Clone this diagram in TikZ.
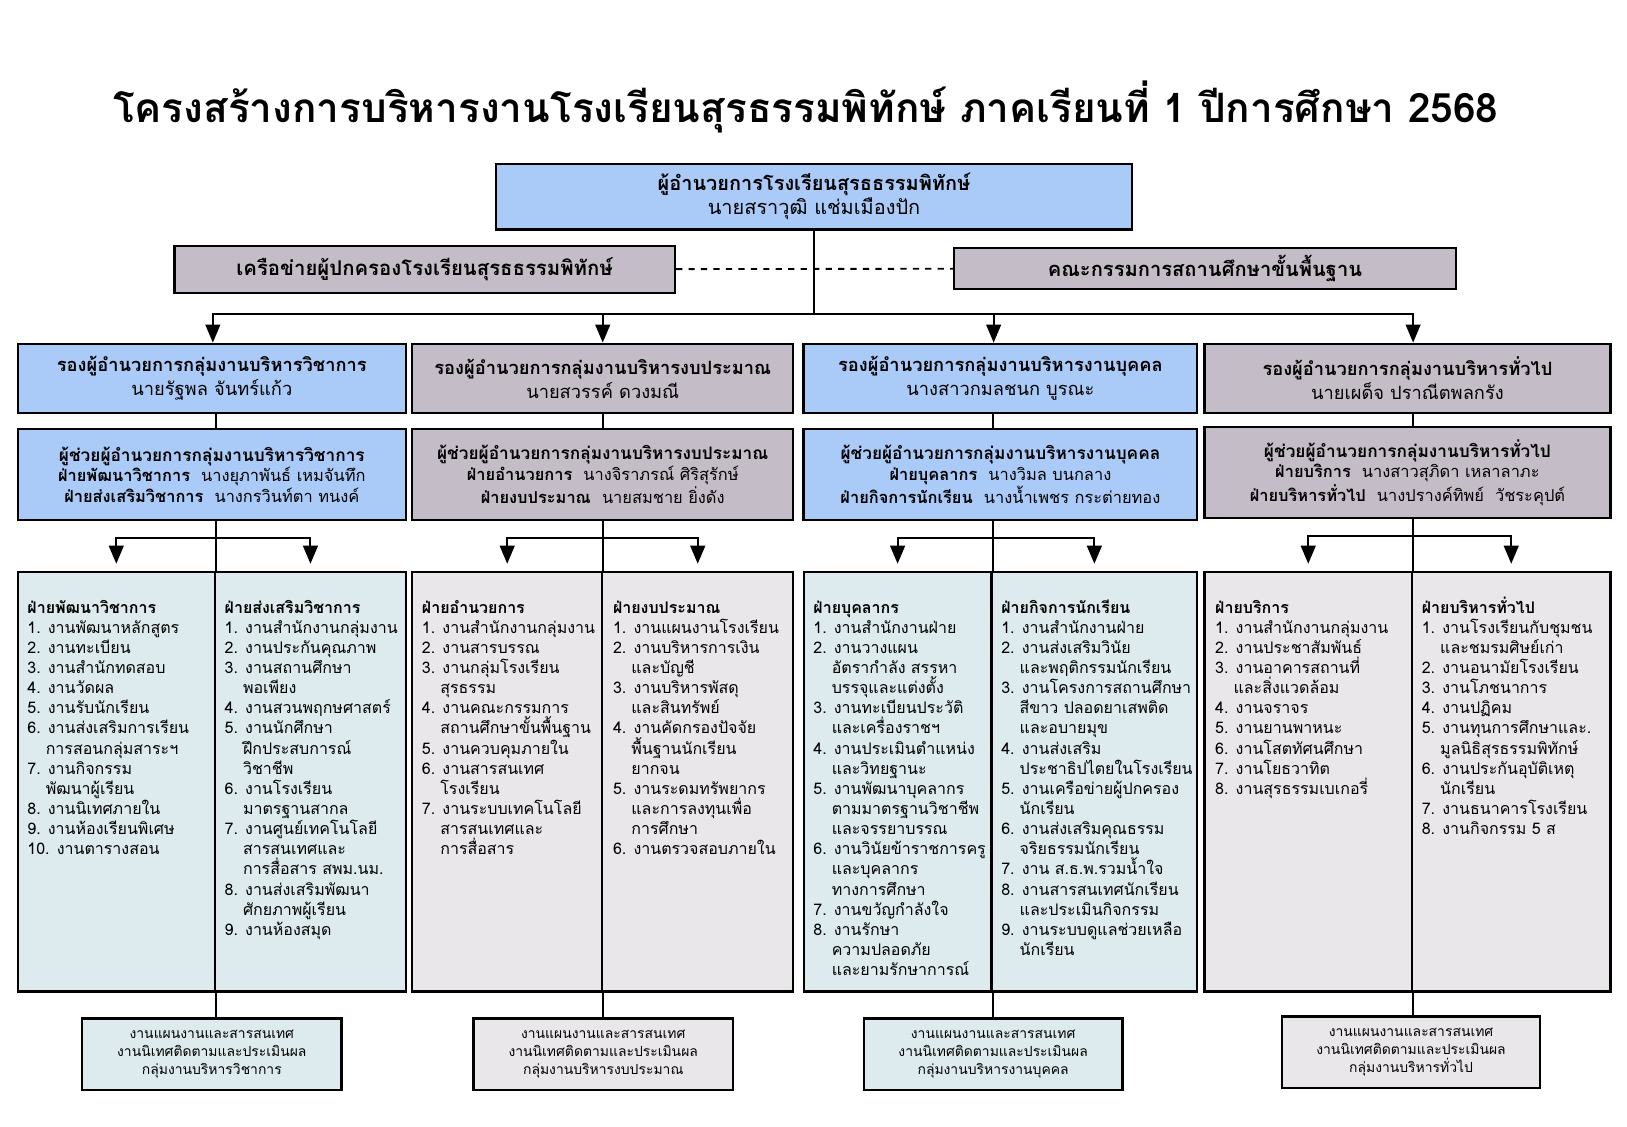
\documentclass[tikz,border=0pt]{standalone}
\usepackage{fontspec}
\setmainfont[Script=Thai]{Loma}
\usetikzlibrary{arrows}

\definecolor{headblue}{RGB}{170,202,247}
\definecolor{headmauve}{RGB}{196,189,200}
\definecolor{listteal}{RGB}{221,234,238}
\definecolor{listgray}{RGB}{234,231,235}

\newcommand{\wrapind}{\hspace*{1.15em}}
\newcommand{\listfont}{\fontsize{7.7bp}{9.7bp}\selectfont}
\newcommand{\topstrut}{\rule{0pt}{8.5bp}}

\begin{document}
\begin{tikzpicture}[x=0.5bp,y=-0.5bp,>=triangle 45]
	\tikzstyle{box} = [rectangle,draw=black,line width=1.1bp,align=center,inner sep=0pt];
	\tikzstyle{listhalf} = [rectangle,draw=black,line width=1.1bp,minimum height=202bp,inner sep=0pt];
	\tikzstyle{listtext} = [anchor=north west,align=left,inner sep=0pt,font=\listfont];
	\tikzstyle{footbox} = [box,minimum height=34.5bp,font=\fontsize{6.7bp}{8.7bp}\selectfont];
	\tikzstyle{link} = [line width=1bp];
	\fill[white] (0,0) rectangle (1567,1085);
	\useasboundingbox (0,0) rectangle (1567,1085);
	% title
	\node (title) at (776,103) {\fontsize{19.5bp}{22bp}\selectfont\bfseries โครงสร้างการบริหารงานโรงเรียนสุรธรรมพิทักษ์ ภาคเรียนที่ 1 ปีการศึกษา 2568};
	% top level
	\node[box,fill=headblue,minimum width=306bp,minimum height=31.5bp,font=\fontsize{9.6bp}{11.5bp}\selectfont] (dir) at (784,189.5) {\textbf{ผู้อำนวยการโรงเรียนสุรธธรรมพิทักษ์}\\นายสราวุฒิ แช่มเมืองปัก};
	\node[box,fill=headmauve,minimum width=241bp,minimum height=22.5bp,font=\fontsize{9.8bp}{11.5bp}\selectfont\bfseries] (net) at (409,259.5) {เครือข่ายผู้ปกครองโรงเรียนสุรธธรรมพิทักษ์};
	\node[box,fill=headmauve,minimum width=241.5bp,minimum height=19.5bp,font=\fontsize{9.7bp}{11.5bp}\selectfont\bfseries] (board) at (1160.5,258.5) {คณะกรรมการสถานศึกษาขั้นพื้นฐาน};
	\draw[line width=0.9bp,dash pattern=on 3bp off 3bp] (net) -- (board);
	% deputies
	\tikzstyle{deputy} = [box,minimum height=33.5bp,font=\fontsize{8.8bp}{11.5bp}\selectfont];
	\node[deputy,fill=headblue,minimum width=187bp] (dep1) at (204,364.5) {\textbf{รองผู้อำนวยการกลุ่มงานบริหารวิชาการ}\\นายรัฐพล จันทร์แก้ว};
	\node[deputy,fill=headmauve,minimum width=183.5bp] (dep2) at (580.5,364.5) {\textbf{รองผู้อำนวยการกลุ่มงานบริหารงบประมาณ}\\นายสวรรค์ ดวงมณี};
	\node[deputy,fill=headblue,minimum width=189.5bp] (dep3) at (963.5,364.5) {\textbf{รองผู้อำนวยการกลุ่มงานบริหารงานบุคคล}\\นางสาวกมลชนก บูรณะ};
	\node[deputy,fill=headmauve,minimum width=195.5bp] (dep4) at (1355.5,364.5) {\textbf{รองผู้อำนวยการกลุ่มงานบริหารทั่วไป}\\นายเผด็จ ปราณีตพลกรัง};
	% assistants
	\tikzstyle{assist} = [box,minimum height=44bp,font=\fontsize{7.9bp}{9.9bp}\selectfont];
	\node[assist,fill=headblue,minimum width=187bp] (ast1) at (204,457) {\textbf{\fontsize{8.3bp}{10bp}\selectfont ผู้ช่วยผู้อำนวยการกลุ่มงานบริหารวิชาการ}\\\textbf{ฝ่ายพัฒนาวิชาการ}\ \ นางยุภาพันธ์ เหมจันทึก\\\textbf{ฝ่ายส่งเสริมวิชาการ}\ \ นางกรวินท์ตา ทนงค์};
	\node[assist,fill=headmauve,minimum width=183.5bp] (ast2) at (580.5,457) {\textbf{\fontsize{8.3bp}{10bp}\selectfont ผู้ช่วยผู้อำนวยการกลุ่มงานบริหารงบประมาณ}\\\textbf{ฝ่ายอำนวยการ}\ \ นางจิราภรณ์ ศิริสุรักษ์\\\textbf{ฝ่ายงบประมาณ}\ \ นายสมชาย ยิ่งดัง};
	\node[assist,fill=headblue,minimum width=189.5bp] (ast3) at (963.5,457) {\textbf{\fontsize{8.3bp}{10bp}\selectfont ผู้ช่วยผู้อำนวยการกลุ่มงานบริหารงานบุคคล}\\\textbf{ฝ่ายบุคลากร}\ \ นางวิมล บนกลาง\\\textbf{ฝ่ายกิจการนักเรียน}\ \ นางน้ำเพชร กระต่ายทอง};
	\node[assist,fill=headmauve,minimum width=195.5bp] (ast4) at (1355.5,455) {\textbf{\fontsize{8.3bp}{10bp}\selectfont ผู้ช่วยผู้อำนวยการกลุ่มงานบริหารทั่วไป}\\\textbf{ฝ่ายบริการ}\ \ นางสาวสุภิดา เหลาลาภะ\\\textbf{ฝ่ายบริหารทั่วไป}\ \ นางปรางค์ทิพย์\ \ วัชระคุปต์};
	% list boxes
	\node[listhalf,fill=listteal,minimum width=95bp] (l1a) at (112,753) {};
	\node[listhalf,fill=listteal,minimum width=92bp] (l1b) at (299,753) {};
	\node[listhalf,fill=listgray,minimum width=91.5bp] (l2a) at (488.5,753) {};
	\node[listhalf,fill=listgray,minimum width=92bp] (l2b) at (672,753) {};
	\node[listhalf,fill=listteal,minimum width=90.5bp] (l3a) at (864.5,753) {};
	\node[listhalf,fill=listteal,minimum width=99bp] (l3b) at (1054,753) {};
	\node[listhalf,fill=listgray,minimum width=100bp] (l4a) at (1260,753) {};
	\node[listhalf,fill=listgray,minimum width=95.5bp] (l4b) at (1455.5,753) {};
	% list texts
	\node[listtext] (t1a) at (26,573) {\topstrut\textbf{ฝ่ายพัฒนาวิชาการ}\\1. งานพัฒนาหลักสูตร\\2. งานทะเบียน\\3. งานสำนักทดสอบ\\4. งานวัดผล\\5. งานรับนักเรียน\\6. งานส่งเสริมการเรียน\\\wrapind การสอนกลุ่มสาระฯ\\7. งานกิจกรรม\\\wrapind พัฒนาผู้เรียน\\8. งานนิเทศภายใน\\9. งานห้องเรียนพิเศษ\\10. งานตารางสอน};
	\node[listtext] (t1b) at (216,573) {\topstrut\textbf{ฝ่ายส่งเสริมวิชาการ}\\1. งานสำนักงานกลุ่มงาน\\2. งานประกันคุณภาพ\\3. งานสถานศึกษา\\\wrapind พอเพียง\\4. งานสวนพฤกษศาสตร์\\5. งานนักศึกษา\\\wrapind ฝึกประสบการณ์\\\wrapind วิชาชีพ\\6. งานโรงเรียน\\\wrapind มาตรฐานสากล\\7. งานศูนย์เทคโนโลยี\\\wrapind สารสนเทศและ\\\wrapind การสื่อสาร สพม.นม.\\8. งานส่งเสริมพัฒนา\\\wrapind ศักยภาพผู้เรียน\\9. งานห้องสมุด};
	\node[listtext] (t2a) at (406,573) {\topstrut\textbf{ฝ่ายอำนวยการ}\\1. งานสำนักงานกลุ่มงาน\\2. งานสารบรรณ\\3. งานกลุ่มโรงเรียน\\\wrapind สุรธรรม\\4. งานคณะกรรมการ\\\wrapind สถานศึกษาขั้นพื้นฐาน\\5. งานควบคุมภายใน\\6. งานสารสนเทศ\\\wrapind โรงเรียน\\7. งานระบบเทคโนโลยี\\\wrapind สารสนเทศและ\\\wrapind การสื่อสาร};
	\node[listtext] (t2b) at (590,573) {\topstrut\textbf{ฝ่ายงบประมาณ}\\1. งานแผนงานโรงเรียน\\2. งานบริหารการเงิน\\\wrapind และบัญชี\\3. งานบริหารพัสดุ\\\wrapind และสินทรัพย์\\4. งานคัดกรองปัจจัย\\\wrapind พื้นฐานนักเรียน\\\wrapind ยากจน\\5. งานระดมทรัพยากร\\\wrapind และการลงทุนเพื่อ\\\wrapind การศึกษา\\6. งานตรวจสอบภายใน};
	\node[listtext] (t3a) at (783,573) {\topstrut\textbf{ฝ่ายบุคลากร}\\1. งานสำนักงานฝ่าย\\2. งานวางแผน\\\wrapind อัตรากำลัง สรรหา\\\wrapind บรรจุและแต่งตั้ง\\3. งานทะเบียนประวัติ\\\wrapind และเครื่องราชฯ\\4. งานประเมินตำแหน่ง\\\wrapind และวิทยฐานะ\\5. งานพัฒนาบุคลากร\\\wrapind ตามมาตรฐานวิชาชีพ\\\wrapind และจรรยาบรรณ\\6. งานวินัยข้าราชการครู\\\wrapind และบุคลากร\\\wrapind ทางการศึกษา\\7. งานขวัญกำลังใจ\\8. งานรักษา\\\wrapind ความปลอดภัย\\\wrapind และยามรักษาการณ์};
	\node[listtext] (t3b) at (964,573) {\topstrut\textbf{ฝ่ายกิจการนักเรียน}\\1. งานสำนักงานฝ่าย\\2. งานส่งเสริมวินัย\\\wrapind และพฤติกรรมนักเรียน\\3. งานโครงการสถานศึกษา\\\wrapind สีขาว ปลอดยาเสพติด\\\wrapind และอบายมุข\\4. งานส่งเสริม\\\wrapind ประชาธิปไตยในโรงเรียน\\5. งานเครือข่ายผู้ปกครอง\\\wrapind นักเรียน\\6. งานส่งเสริมคุณธรรม\\\wrapind จริยธรรมนักเรียน\\7. งาน ส.ธ.พ.รวมน้ำใจ\\8. งานสารสนเทศนักเรียน\\\wrapind และประเมินกิจกรรม\\9. งานระบบดูแลช่วยเหลือ\\\wrapind นักเรียน};
	\node[listtext] (t4a) at (1170,573) {\topstrut\textbf{ฝ่ายบริการ}\\1. งานสำนักงานกลุ่มงาน\\2. งานประชาสัมพันธ์\\3. งานอาคารสถานที่\\\wrapind และสิ่งแวดล้อม\\4. งานจราจร\\5. งานยานพาหนะ\\6. งานโสตทัศนศึกษา\\7. งานโยธวาทิต\\8. งานสุรธรรมเบเกอรี่};
	\node[listtext] (t4b) at (1369,573) {\topstrut\textbf{ฝ่ายบริหารทั่วไป}\\1. งานโรงเรียนกับชุมชน\\\wrapind และชมรมศิษย์เก่า\\2. งานอนามัยโรงเรียน\\3. งานโภชนาการ\\4. งานปฏิคม\\5. งานทุนการศึกษาและ.\\\wrapind มูลนิธิสุรธรรมพิทักษ์\\6. งานประกันอุบัติเหตุ\\\wrapind นักเรียน\\7. งานธนาคารโรงเรียน\\8. งานกิจกรรม 5 ส};
	% bottom boxes
	\node[footbox,fill=listteal,minimum width=125bp] (bot1) at (204,1015.5) {งานแผนงานและสารสนเทศ\\งานนิเทศติดตามและประเมินผล\\กลุ่มงานบริหารวิชาการ};
	\node[footbox,fill=listgray,minimum width=125bp] (bot2) at (581,1015.5) {งานแผนงานและสารสนเทศ\\งานนิเทศติดตามและประเมินผล\\กลุ่มงานบริหารงบประมาณ};
	\node[footbox,fill=listteal,minimum width=124.5bp] (bot3) at (956.5,1015.5) {งานแผนงานและสารสนเทศ\\งานนิเทศติดตามและประเมินผล\\กลุ่มงานบริหารงานบุคคล};
	\node[footbox,fill=listgray,minimum width=124bp] (bot4) at (1359,1013.5) {งานแผนงานและสารสนเทศ\\งานนิเทศติดตามและประเมินผล\\กลุ่มงานบริหารทั่วไป};
	% connectors from the director
	\coordinate (hub) at (784,302);
	\draw[line width=0.6bp] (dir.south) -- (hub);
	\draw[link,->] (hub) -| ([xshift=0.5bp]dep1.north);
	\draw[link,->] (hub) -| (dep2.north);
	\draw[link,->] (hub) -| ([xshift=-3.25bp]dep3.north);
	\draw[link,->] (hub) -| ([xshift=2.75bp]dep4.north);
	% trunks of the four groups
	\foreach \g in {1,2,3,4} {
		\draw[link] (dep\g.south -| l\g a.north east) -- (ast\g.north -| l\g a.north east);
		\draw[link] (ast\g.south -| l\g a.north east) -- (l\g a.north east);
		\draw[link] (l\g a.south east) -- (l\g a.south east |- bot\g.north);
		\path (ast\g.south -| l\g a.north east) ++(0,16) coordinate (fork\g);
		\draw[link,->,shorten >=3.5bp] (fork\g) -| (l\g a.north);
		\draw[link,->,shorten >=3.5bp] (fork\g) -| (l\g b.north);
	}
\end{tikzpicture}
\end{document}
